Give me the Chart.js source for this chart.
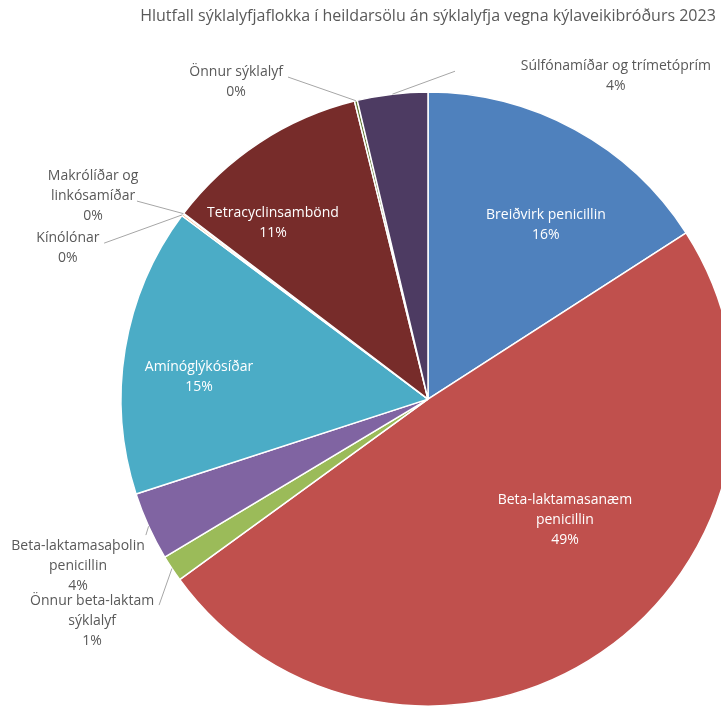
<!DOCTYPE html>
<html>
<head>
<meta charset="utf-8">
<script src="https://cdn.jsdelivr.net/npm/chart.js@4.4.0/dist/chart.umd.min.js"></script>
<style>
  html, body { margin: 0; padding: 0; background: #fff; }
  #wrap { position: relative; width: 721px; height: 707px; overflow: hidden; }
  #pie { position: absolute; left: 0; top: 0; }
</style>
</head>
<body>
<div id="wrap"><canvas id="pie" width="856" height="720"></canvas></div>
<script>
// Antibiotic class shares of total sales, 2023
const TITLE = 'Hlutfall sýklalyfjaflokka í heildarsölu án sýklalyfja vegna kýlaveikibróðurs 2023';
const CATEGORIES = [
    'Breiðvirk penicillin',
    'Beta-laktamasanæm penicillin',
    'Önnur beta-laktam sýklalyf',
    'Beta-laktamasaþolin penicillin',
    'Amínóglýkósíðar',
    'Kínólónar',
    'Makrólíðar og linkósamíðar',
    'Tetracyclinsambönd',
    'Önnur sýklalyf',
    'Súlfónamíðar og trímetóprím'
];
const SHARES = [15.9, 49.1, 1.4, 3.6, 15.2, 0.1, 0.05, 10.8, 0.15, 3.7];
const COLORS = [
    '#4F81BD', '#C0504D', '#9BBB59', '#8064A2', '#4BACC6',
    '#F79646', '#2C4D75', '#772C2A', '#5F7530', '#4D3B62'
];

// How each category name wraps in its label
const LABEL_LINES = [
    ['Breiðvirk penicillin'],
    ['Beta-laktamasanæm', 'penicillin'],
    ['Önnur beta-laktam', 'sýklalyf'],
    ['Beta-laktamasaþolin', 'penicillin'],
    ['Amínóglýkósíðar'],
    ['Kínólónar'],
    ['Makrólíðar og', 'linkósamíðar'],
    ['Tetracyclinsambönd'],
    ['Önnur sýklalyf'],
    ['Súlfónamíðar og trímetóprím']
];

// Label placement, in units of the pie radius from its centre.
// inside labels are white; outside ones get a leader line to `lead`.
const LABEL_PLACE = [
    { inside: true,  at: [0.384, -0.567] },
    { inside: true,  at: [0.446, 0.394] },
    { inside: false, at: [-1.094, 0.723], lead: [-0.876, 0.671] },
    { inside: false, at: [-1.140, 0.544], lead: [-0.919, 0.443] },
    { inside: true,  at: [-0.746, -0.072] },
    { inside: false, at: [-1.173, -0.492], lead: [-1.055, -0.508] },
    { inside: false, at: [-1.091, -0.661], lead: [-0.948, -0.645] },
    { inside: true,  at: [-0.505, -0.573] },
    { inside: false, at: [-0.625, -1.033], lead: [-0.456, -1.049] },
    { inside: false, at: [0.612, -1.052],  lead: [0.088, -1.068] }
];

const FONT_FAMILY = '"Open Sans", Lato, sans-serif';
const TEXT_GREY = '#595959';

// Draws data labels + leader lines like the Excel original
const pieLabels = {
    id: 'pieLabels',
    afterDatasetsDraw(chart) {
        const ctx = chart.ctx;
        const meta = chart.getDatasetMeta(0);
        const data = chart.data.datasets[0].data;
        const total = data.reduce((a, b) => a + b, 0);
        const lh = 20;

        ctx.save();
        ctx.font = '14px ' + FONT_FAMILY;
        ctx.textAlign = 'center';
        ctx.textBaseline = 'middle';

        meta.data.forEach((arc, i) => {
            const p = arc.getProps(['x', 'y', 'startAngle', 'endAngle', 'outerRadius'], true);
            const r = p.outerRadius;
            const place = LABEL_PLACE[i];
            const lines = LABEL_LINES[i].concat([Math.round(data[i] / total * 100) + '%']);

            if (!place.inside) {
                const mid = (p.startAngle + p.endAngle) / 2;
                ctx.strokeStyle = '#A6A6A6';
                ctx.lineWidth = 1;
                ctx.beginPath();
                ctx.moveTo(p.x + Math.cos(mid) * r, p.y + Math.sin(mid) * r);
                ctx.lineTo(p.x + place.lead[0] * r, p.y + place.lead[1] * r);
                ctx.stroke();
            }

            const cx = p.x + place.at[0] * r;
            const cy = p.y + place.at[1] * r;
            ctx.fillStyle = place.inside ? '#ffffff' : TEXT_GREY;
            const y0 = cy - (lines.length - 1) * lh / 2;
            lines.forEach((t, k) => ctx.fillText(t, cx, y0 + k * lh));
        });
        ctx.restore();
    }
};

function createPieChart() {
    const canvas = document.getElementById('pie');
    if (!canvas) {
        console.error('Pie canvas not found');
        return;
    }
    new Chart(canvas.getContext('2d'), {
        type: 'pie',
        data: {
            labels: CATEGORIES,
            datasets: [{
                data: SHARES,
                backgroundColor: COLORS,
                borderColor: '#ffffff',
                borderWidth: 1.5
            }]
        },
        options: {
            responsive: false,
            animation: false,
            radius: 307,
            layout: { padding: { left: 121, right: 121, top: 0, bottom: 14 } },
            plugins: {
                legend: { display: false },
                tooltip: { enabled: false },
                title: {
                    display: true,
                    text: TITLE,
                    color: TEXT_GREY,
                    font: { family: FONT_FAMILY, size: 16, weight: 'normal' },
                    padding: { top: 7, bottom: 66 }
                }
            }
        },
        plugins: [pieLabels]
    });
}

createPieChart();
</script>
</body>
</html>
